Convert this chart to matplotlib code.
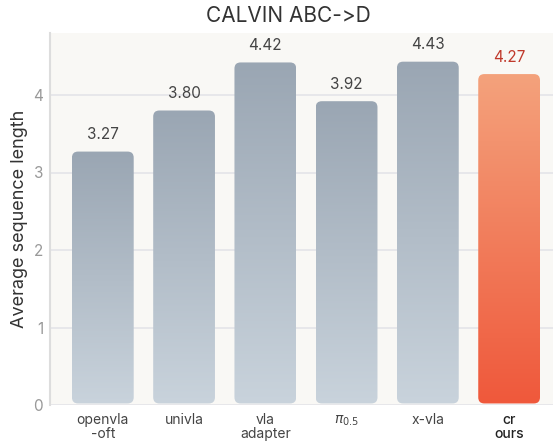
import matplotlib
matplotlib.use('Agg')
import matplotlib.pyplot as plt
import numpy as np
from matplotlib.patches import FancyBboxPatch
from matplotlib.colors import LinearSegmentedColormap

plt.rcParams['font.family'] = ['Inter', 'DejaVu Sans']

# data
methods = ['openvla\n-oft', 'univla', 'vla\nadapter', r'$\pi_{0.5}$', 'x-vla', 'cr\nours']
scores = [3.27, 3.80, 4.42, 3.92, 4.43, 4.27]
labels = ['3.27', '3.80', '4.42', '3.92', '4.43', '4.27']
ours_idx = 5

gray_cmap = LinearSegmentedColormap.from_list('g', ['#c9d3dc', '#9aa6b3'])
red_cmap = LinearSegmentedColormap.from_list('r', ['#ef583b', '#f4a27c'])

fig = plt.figure(figsize=(5.53, 4.45), dpi=100)
ax = fig.add_axes([50 / 553, 40 / 445, 503 / 553, 372 / 445])
ax.set_facecolor('#f9f8f5')

x = np.arange(len(methods))
w = 0.76

grad = np.linspace(0, 1, 256).reshape(-1, 1)
for i, (xi, v) in enumerate(zip(x, scores)):
    patch = FancyBboxPatch((xi - w / 2, 0.02), w, v - 0.02,
                           boxstyle='round,pad=0,rounding_size=0.075',
                           mutation_aspect=1.05, fc='none', ec='none')
    ax.add_patch(patch)
    cmap = red_cmap if i == ours_idx else gray_cmap
    im = ax.imshow(grad, cmap=cmap, origin='lower', aspect='auto',
                   extent=(xi - w / 2, xi + w / 2, 0, v), zorder=2)
    im.set_clip_path(patch)
    col = '#c0392b' if i == ours_idx else '#444444'
    ax.text(xi, v + 0.12, labels[i], ha='center', va='bottom', fontsize=11, color=col)

ax.set_xlim(-0.65, 5.54)
ax.set_ylim(0, 4.8)
ax.set_xticks(x)
ax.set_xticklabels(methods, fontsize=10, color='#444444', linespacing=0.95)
ax.get_xticklabels()[ours_idx].set_color('#222222')
ax.get_xticklabels()[ours_idx].set_fontweight('medium')
ax.set_yticks([0, 1, 2, 3, 4])
ax.tick_params(axis='y', labelsize=11, labelcolor='#999999', length=0, pad=5)
ax.tick_params(axis='x', length=0, pad=6)
ax.grid(axis='y', color='#e4e4e8', linewidth=1.2, zorder=0)
ax.set_axisbelow(True)
for s in ['top', 'right', 'bottom']:
    ax.spines[s].set_visible(False)
ax.spines['left'].set_color('#dddddd')
ax.spines['left'].set_linewidth(1.5)

ax.set_ylabel('Average sequence length', fontsize=13, color='#333333', labelpad=4)
ax.set_title('CALVIN ABC->D', fontsize=15, color='#333333', pad=8, x=0.473)

fig.savefig('out.png', dpi=100)
